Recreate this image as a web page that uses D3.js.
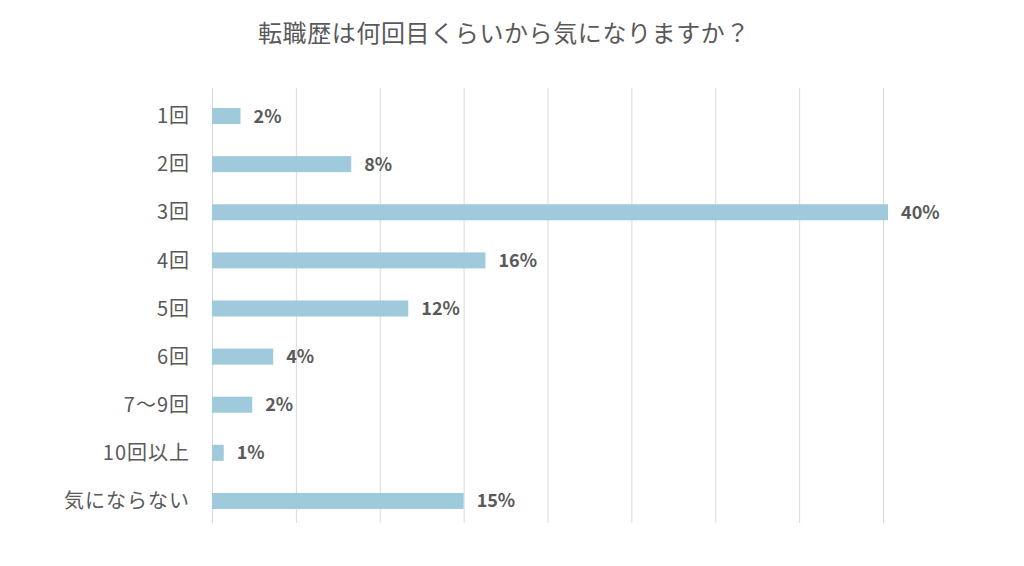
<!DOCTYPE html>
<html><head><meta charset="utf-8">
<script src="https://cdn.jsdelivr.net/npm/d3@7"></script>
<style>
html,body{margin:0;padding:0;background:#fff;}
text{font-family:"Noto Sans CJK JP","Noto Sans",sans-serif;}
</style></head>
<body>
<svg id="chart" width="1024" height="566"></svg>
<script>
const title = "転職歴は何回目くらいから気になりますか？";
const categories = ["1回","2回","3回","4回","5回","6回","7～9回","10回以上","気にならない"];
const values = [1.7, 8.3, 40.3, 16.3, 11.7, 3.65, 2.4, 0.7, 15.0];
const valueLabels = ["2%","8%","40%","16%","12%","4%","2%","1%","15%"];
const gridTicks = [0,5,10,15,20,25,30,35,40];

const svg = d3.select("#chart");
const W = 1024, H = 566;
const m = {left: 212, right: 141, top: 92, bottom: 41};

svg.append("rect").attr("width", W).attr("height", H).attr("fill", "#fff");

const x = d3.scaleLinear().domain([0, 40]).range([m.left, W - m.right]);
const y = d3.scaleBand().domain(categories).range([m.top, H - m.bottom]).paddingInner(0.667).paddingOuter(0.333);

// gridlines
const gx = svg.append("g")
  .attr("transform", `translate(0,523)`)
  .call(d3.axisBottom(x).tickValues(gridTicks).tickSize(-435).tickFormat(""));
gx.select(".domain").remove();
gx.selectAll(".tick line").attr("stroke", "#d9d9d9").attr("stroke-width", 1);

// bars
svg.append("g").selectAll("rect").data(categories).join("rect")
  .attr("x", x(0))
  .attr("y", d => y(d))
  .attr("width", (d, i) => x(values[i]) - x(0))
  .attr("height", y.bandwidth())
  .attr("fill", "#9fcadc");

// value labels
svg.append("g").selectAll("text").data(categories).join("text")
  .attr("x", (d, i) => x(values[i]) + 13)
  .attr("y", d => y(d) + y.bandwidth() / 2)
  .attr("dy", "0.36em")
  .attr("font-size", 18)
  .attr("font-weight", "bold")
  .attr("fill", "#595959")
  .text((d, i) => valueLabels[i]);

// category axis
const gy = svg.append("g")
  .attr("transform", `translate(${m.left},0)`)
  .call(d3.axisLeft(y).tickSize(0).tickPadding(22));
gy.select(".domain").remove();
gy.selectAll("text")
  .attr("font-size", 20)
  .attr("letter-spacing", 1)
  .attr("fill", "#595959")
  .attr("dy", "0.36em")
  .style("font-family", '"Noto Sans CJK JP","Noto Sans",sans-serif');

// title
svg.append("text")
  .attr("x", 504).attr("y", 33)
  .attr("text-anchor", "middle")
  .attr("dy", "0.36em")
  .attr("font-size", 24)
  .attr("letter-spacing", 0.6)
  .attr("fill", "#595959")
  .text(title);
</script>
</body></html>
